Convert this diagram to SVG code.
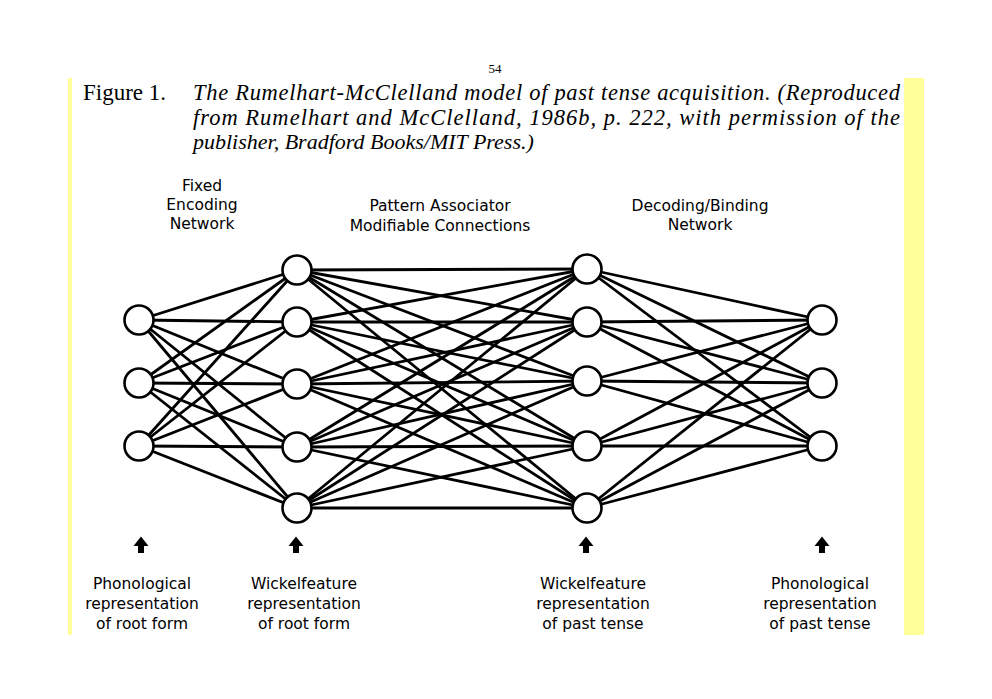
<svg xmlns="http://www.w3.org/2000/svg" width="992" height="699" viewBox="0 0 992 699">
<style>
.cap{font-family:"Liberation Serif","Times New Roman",serif;fill:#000}
.it{font-style:italic}
.lbl{font-family:"DejaVu Sans","Liberation Sans",sans-serif;font-size:15.5px;fill:#000;text-anchor:middle}
.node{fill:#fff;stroke:#000;stroke-width:2.6}
.conn line{stroke:#000;stroke-width:2.8;stroke-linecap:round}
.arr{fill:#000}
</style>
<defs>
<path id="up" d="M0,-8.5 L7.5,1 L3,1 L3,8 L-3,8 L-3,1 L-7.5,1 Z"/>
</defs>
<rect width="992" height="699" fill="#fff"/>
<rect x="68" y="78" width="4" height="557" fill="#ffff99"/>
<rect x="904" y="78" width="20" height="557" fill="#ffff99"/>
<text class="cap" x="495" y="73" font-size="13" text-anchor="middle">54</text>
<text class="cap" x="83" y="100" font-size="23">Figure 1.</text>
<text class="cap it" x="193" y="100" font-size="22.5" textLength="707" lengthAdjust="spacing">The Rumelhart-McClelland model of past tense acquisition. (Reproduced</text>
<text class="cap it" x="193" y="125" font-size="22.5" textLength="707" lengthAdjust="spacing">from Rumelhart and McClelland, 1986b, p. 222, with permission of the</text>
<text class="cap it" x="193" y="149" font-size="22">publisher, Bradford Books/MIT Press.)</text>

<g id="label-fixed" class="lbl"><text x="202" y="191">Fixed</text><text x="202" y="210">Encoding</text><text x="202" y="229">Network</text></g>
<g id="label-pattern" class="lbl"><text x="440" y="211">Pattern Associator</text><text x="440" y="231">Modifiable Connections</text></g>
<g id="label-decoding" class="lbl"><text x="700" y="211">Decoding/Binding</text><text x="700" y="230">Network</text></g>

<g id="connectors" class="conn">
<line x1="139" y1="320" x2="297" y2="270"/><line x1="139" y1="320" x2="297" y2="322"/><line x1="139" y1="320" x2="297" y2="384"/><line x1="139" y1="320" x2="297" y2="447"/><line x1="139" y1="320" x2="297" y2="508"/>
<line x1="139" y1="383" x2="297" y2="270"/><line x1="139" y1="383" x2="297" y2="322"/><line x1="139" y1="383" x2="297" y2="384"/><line x1="139" y1="383" x2="297" y2="447"/><line x1="139" y1="383" x2="297" y2="508"/>
<line x1="139" y1="446" x2="297" y2="270"/><line x1="139" y1="446" x2="297" y2="322"/><line x1="139" y1="446" x2="297" y2="384"/><line x1="139" y1="446" x2="297" y2="447"/><line x1="139" y1="446" x2="297" y2="508"/>

<line x1="297" y1="270" x2="587" y2="269"/><line x1="297" y1="270" x2="587" y2="322"/><line x1="297" y1="270" x2="587" y2="381"/><line x1="297" y1="270" x2="587" y2="446"/><line x1="297" y1="270" x2="587" y2="508"/>
<line x1="297" y1="322" x2="587" y2="269"/><line x1="297" y1="322" x2="587" y2="322"/><line x1="297" y1="322" x2="587" y2="381"/><line x1="297" y1="322" x2="587" y2="446"/><line x1="297" y1="322" x2="587" y2="508"/>
<line x1="297" y1="384" x2="587" y2="269"/><line x1="297" y1="384" x2="587" y2="322"/><line x1="297" y1="384" x2="587" y2="381"/><line x1="297" y1="384" x2="587" y2="446"/><line x1="297" y1="384" x2="587" y2="508"/>
<line x1="297" y1="447" x2="587" y2="269"/><line x1="297" y1="447" x2="587" y2="322"/><line x1="297" y1="447" x2="587" y2="381"/><line x1="297" y1="447" x2="587" y2="446"/><line x1="297" y1="447" x2="587" y2="508"/>
<line x1="297" y1="508" x2="587" y2="269"/><line x1="297" y1="508" x2="587" y2="322"/><line x1="297" y1="508" x2="587" y2="381"/><line x1="297" y1="508" x2="587" y2="446"/><line x1="297" y1="508" x2="587" y2="508"/>

<line x1="587" y1="269" x2="822" y2="320"/><line x1="587" y1="269" x2="822" y2="383"/><line x1="587" y1="269" x2="822" y2="446"/>
<line x1="587" y1="322" x2="822" y2="320"/><line x1="587" y1="322" x2="822" y2="383"/><line x1="587" y1="322" x2="822" y2="446"/>
<line x1="587" y1="381" x2="822" y2="320"/><line x1="587" y1="381" x2="822" y2="383"/><line x1="587" y1="381" x2="822" y2="446"/>
<line x1="587" y1="446" x2="822" y2="320"/><line x1="587" y1="446" x2="822" y2="383"/><line x1="587" y1="446" x2="822" y2="446"/>
<line x1="587" y1="508" x2="822" y2="320"/><line x1="587" y1="508" x2="822" y2="383"/><line x1="587" y1="508" x2="822" y2="446"/>
</g>

<g id="layer-phon-root">
<circle class="node" cx="139" cy="320" r="14.5"/><circle class="node" cx="139" cy="383" r="14.5"/><circle class="node" cx="139" cy="446" r="14.5"/>
</g>
<g id="layer-wf-root">
<circle class="node" cx="297" cy="270" r="14.5"/><circle class="node" cx="297" cy="322" r="14.5"/><circle class="node" cx="297" cy="384" r="14.5"/><circle class="node" cx="297" cy="447" r="14.5"/><circle class="node" cx="297" cy="508" r="14.5"/>
</g>
<g id="layer-wf-past">
<circle class="node" cx="587" cy="269" r="14.5"/><circle class="node" cx="587" cy="322" r="14.5"/><circle class="node" cx="587" cy="381" r="14.5"/><circle class="node" cx="587" cy="446" r="14.5"/><circle class="node" cx="587" cy="508" r="14.5"/>
</g>
<g id="layer-phon-past">
<circle class="node" cx="822" cy="320" r="14.5"/><circle class="node" cx="822" cy="383" r="14.5"/><circle class="node" cx="822" cy="446" r="14.5"/>
</g>

<g id="arrows" class="arr">
<use href="#up" x="141" y="545"/><use href="#up" x="296" y="545"/><use href="#up" x="586" y="545"/><use href="#up" x="822" y="545"/>
</g>

<g id="label-phon-root" class="lbl"><text x="142" y="589">Phonological</text><text x="142" y="609">representation</text><text x="142" y="629">of root form</text></g>
<g id="label-wf-root" class="lbl"><text x="304" y="589">Wickelfeature</text><text x="304" y="609">representation</text><text x="304" y="629">of root form</text></g>
<g id="label-wf-past" class="lbl"><text x="593" y="589">Wickelfeature</text><text x="593" y="609">representation</text><text x="593" y="629">of past tense</text></g>
<g id="label-phon-past" class="lbl"><text x="820" y="589">Phonological</text><text x="820" y="609">representation</text><text x="820" y="629">of past tense</text></g>
</svg>
